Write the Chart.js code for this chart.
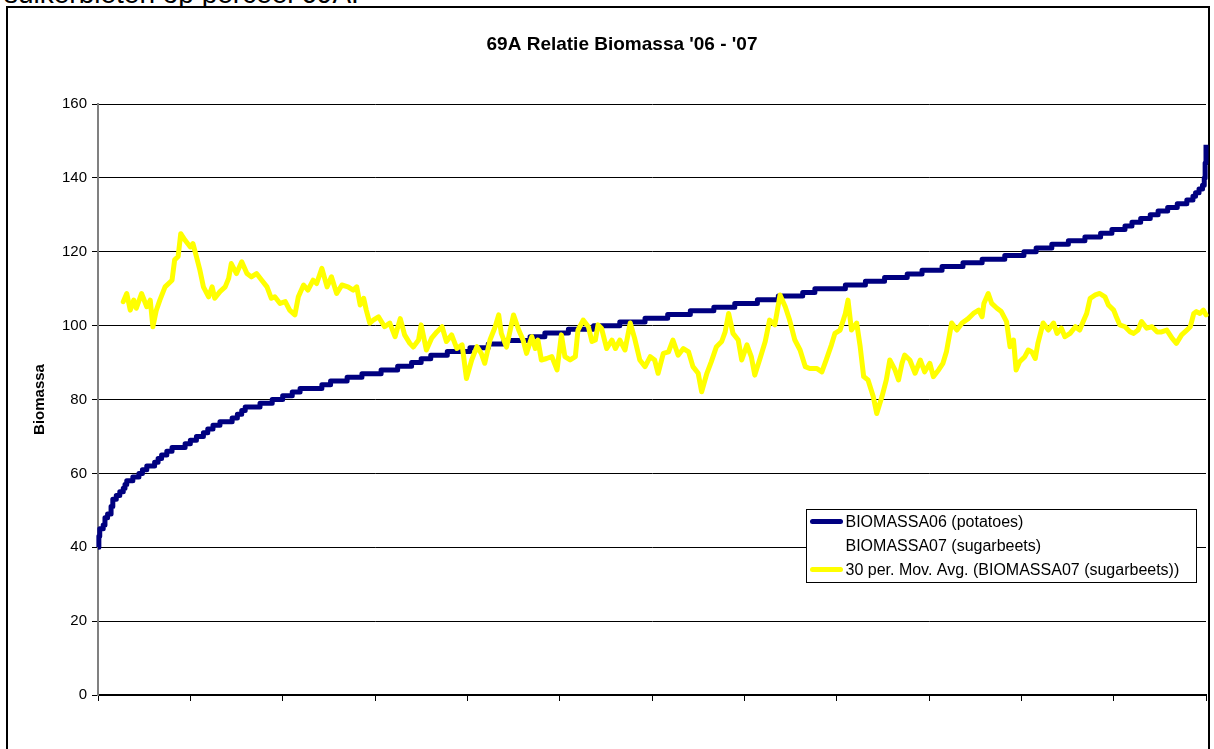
<!DOCTYPE html>
<html>
<head>
<meta charset="utf-8">
<title>69A Relatie Biomassa</title>
<script src="https://cdn.jsdelivr.net/npm/chart.js@4/dist/chart.umd.min.js"></script>
<style>
html,body{margin:0;padding:0;background:#fff;overflow:hidden}
body{width:1214px;height:749px;position:relative;font-family:"Liberation Sans",Arial,sans-serif}
#note{position:absolute;left:4px;top:-20px;font-size:28px;line-height:28px;white-space:nowrap;color:#000}
#frame{position:absolute;left:6px;top:6px;width:1204px;height:800px;border:2px solid #000;box-sizing:border-box;background:#fff}
#chart{position:absolute;left:0;top:0}
</style>
</head>
<body>
<div id="note">suikerbieten op perceel 69A.</div>
<div id="frame"></div>
<canvas id="chart" width="1214" height="749"></canvas>
<script>

const titleText = "69A Relatie Biomassa '06 - '07"
const yTitle = "Biomassa"
const seriesNames = [
"BIOMASSA06 (potatoes)",
"BIOMASSA07 (sugarbeets)",
"30 per. Mov. Avg. (BIOMASSA07 (sugarbeets))"
]

/* x = observation number, 12 tick intervals */
const xMax = 1272
const xStep = 106
const yMax = 160
const yStep = 20

/* BIOMASSA06 sorted: observation where each value starts */
const bio06X = [0,1,2,6,8,11,15,17,21,25,
29,31,33,40,47,51,56,65,69,73,
79,85,100,106,113,121,126,132,140,154,
160,165,169,186,200,212,223,232,257,267,
286,303,325,344,360,371,382,401,427,448,
466,496,513,540,569,599,628,654,680,707,
731,757,781,809,823,858,881,903,929,946,
969,993,1015,1041,1063,1077,1095,1114,1133,1151,
1164,1179,1187,1197,1208,1217,1228,1239,1250,1257,
1260,1264,1268,1270,1271,1272]
const bio06Y = [40,43,45,46,48,49,51,53,54,55,
56,57,58,59,60,61,62,63,64,65,
66,67,68,69,70,71,72,73,74,75,
76,77,78,79,80,81,82,83,84,85,
86,87,88,89,90,91,92,93,94,95,
96,97,98,99,100,101,102,103,104,105,
106,107,108,109,110,111,112,113,114,115,
116,117,118,119,120,121,122,123,124,125,
126,127,128,129,130,131,132,133,134,135,
136,137,138,140,144,149]

/* 30 per. moving average of BIOMASSA07 */
const avgX = [29,33,37,41,44,50,56,60,63,67,
71,77,85,88,92,95,100,106,109,113,
117,121,127,131,134,140,146,150,153,159,
165,171,176,182,188,194,199,203,209,215,
220,226,230,236,241,247,251,257,263,268,
274,280,287,293,297,301,305,308,312,316,
322,329,335,341,347,352,358,362,368,371,
377,383,389,395,400,406,412,418,423,429,
435,440,444,450,456,460,463,469,477,483,
488,492,498,502,505,509,515,521,527,532,
536,542,548,551,557,563,567,571,574,578,
584,590,594,599,605,611,616,622,628,634,
639,643,649,655,660,666,672,678,683,689,
693,699,704,710,716,720,724,729,735,739,
745,750,754,760,766,771,777,783,789,794,
800,806,812,817,825,831,836,842,846,852,
858,861,865,871,875,879,884,890,894,900,
905,909,915,919,923,926,932,938,944,949,
955,959,965,970,974,980,986,992,999,1005,
1011,1015,1017,1022,1026,1032,1037,1043,1047,1051,
1054,1058,1064,1068,1072,1076,1079,1085,1091,1097,
1101,1106,1110,1116,1122,1127,1131,1135,1139,1145,
1150,1156,1160,1166,1169,1173,1179,1185,1189,1194,
1198,1204,1210,1216,1221,1227,1233,1238,1244,1250,
1254,1258,1261,1265,1269,1272]
const avgY = [106.5,108.7,104.2,106.9,104.7,108.7,105.1,106.9,99.7,104.2,
106.9,110.5,112.3,117.8,118.7,124.9,123.1,121.3,122.2,118.7,
115,110.5,107.8,110.5,107.4,109.2,110.5,112.8,116.8,114.1,
117.3,114.1,113.2,114.1,112.3,110.5,107.4,107.8,106,106.5,
104.2,102.9,107.8,111,109.6,112.3,111.4,115.5,110.5,113.2,
108.7,111,110.5,109.6,110.5,105.6,107.4,104.2,100.7,101.5,
102.4,99.7,100.7,97,101.9,97.5,95.2,94.2,96.1,100.2,
93.4,96.6,98.3,99.7,95.7,97.5,93.8,94.8,85.7,90.7,
94.3,92.5,89.8,96.1,99.7,102.9,97.9,94.2,102.9,98.8,
96.1,92.5,97,93.8,96.1,90.7,91.1,91.6,88,97.5,
91.6,90.7,91.6,98.8,101.5,99.7,95.7,96.1,100.2,99.3,
93.8,96.1,93.8,96.1,93.4,100.7,96.6,90.7,88.9,91.6,
90.7,87.1,92.5,92.9,96.1,92,93.8,92.9,88.9,87.1,
82.1,87.1,90.2,94.3,95.7,98.3,103.3,97.9,96.1,90.7,
94.8,91.6,86.6,91.1,95.7,101.5,100.2,108.3,105.1,101.5,
96.1,93.4,88.9,88.4,88.4,87.5,90.7,94.8,97.9,98.8,
103.3,106.9,98.8,100.7,94.3,86.2,85.3,80.8,76.2,80.8,
85.3,90.7,88,85.3,89.8,92,90.7,87.1,90.7,87.5,
89.8,86.2,88,89.8,92.9,100.7,98.8,100.7,101.9,103.3,
104.2,102.4,106,108.7,106,104.7,103.8,101.1,94.3,96.1,
88,90.2,91.6,93.4,92.9,91.1,95.2,100.7,98.8,100.7,
97.9,99.3,97,97.9,99.7,98.8,101.1,103.3,107.4,108.3,
108.7,107.8,105.6,104.2,102.4,100.2,99.7,98.3,97.9,98.8,
101.1,99.3,99.7,98.3,98.3,98.8,96.6,95.2,97.5,98.8,
99.7,103.3,103.8,103.3,104.2,102.9]

const FONT = "'Liberation Sans', Arial, sans-serif"

/* ---------------- TITLE ---------------- */

const titlePlugin = {
id:"excelTitle",
afterDraw(chart){
const c = chart.ctx
c.save()
c.font = "bold 19px " + FONT
c.fillStyle = "#000"
c.textAlign = "center"
c.textBaseline = "middle"
c.fillText(titleText, 622, 45)
c.restore()
}
}

/* ---------------- LEGEND BOX ---------------- */

const legendPlugin = {
id:"boxLegend",
afterDraw(chart){
const c = chart.ctx
const x0 = 806.5, y0 = 509.5, w = 390, h = 73
c.save()
c.fillStyle = "#fff"
c.fillRect(x0, y0, w, h)
c.strokeStyle = "#000"
c.lineWidth = 1
c.strokeRect(x0, y0, w, h)
c.font = "16px " + FONT
c.textBaseline = "middle"
c.textAlign = "left"
chart.data.datasets.forEach((ds, i) => {
const y = y0 + 13 + i * 24
c.strokeStyle = ds.borderColor
c.lineWidth = 5
c.lineCap = "round"
c.beginPath()
c.moveTo(x0 + 6, y - 1)
c.lineTo(x0 + 34, y - 1)
c.stroke()
c.fillStyle = "#000"
c.fillText(ds.label, x0 + 39, y)
})
c.restore()
}
}

new Chart(document.getElementById("chart"), {

type:"line",

data:{
datasets:[
{
label:seriesNames[0],
data:bio06X.map((x, i) => ({x:x, y:bio06Y[i]})),
borderColor:"#000080",
borderWidth:5,
stepped:true,
pointRadius:0,
borderJoinStyle:"round",
clip:6,
order:2
},
{
label:seriesNames[1],
data:[],
borderColor:"rgba(0,0,0,0)",
pointRadius:0,
order:1
},
{
label:seriesNames[2],
data:avgX.map((x, i) => ({x:x, y:avgY[i]})),
borderColor:"#ffff00",
borderWidth:5,
tension:0,
pointRadius:0,
borderJoinStyle:"round",
borderCapStyle:"round",
clip:6,
order:0
}
]
},

options:{
responsive:false,
animation:false,
devicePixelRatio:1,
layout:{padding:{top:104, right:8, left:0, bottom:0}},
plugins:{
legend:{display:false},
tooltip:{enabled:false},
title:{display:false}
},
scales:{
x:{
type:"linear",
min:0,
max:xMax,
ticks:{stepSize:xStep, autoSkip:false, maxRotation:0, callback:() => ""},
grid:{drawOnChartArea:false, drawTicks:true, tickLength:6, color:"#000"},
border:{color:"#000", width:2},
afterFit:s => { s.height = 54 }
},
y:{
min:0,
max:yMax,
ticks:{stepSize:yStep, color:"#000", padding:5, font:{size:15, family:FONT}},
grid:{color:"#000", lineWidth:1, tickLength:6},
border:{color:"#808080", width:2},
title:{display:true, text:yTitle, color:"#000", padding:{top:31, bottom:0}, font:{size:15, weight:"bold", family:FONT}},
afterFit:s => { s.width = 98 }
}
}
},

plugins:[titlePlugin, legendPlugin]

})

</script>
</body>
</html>
